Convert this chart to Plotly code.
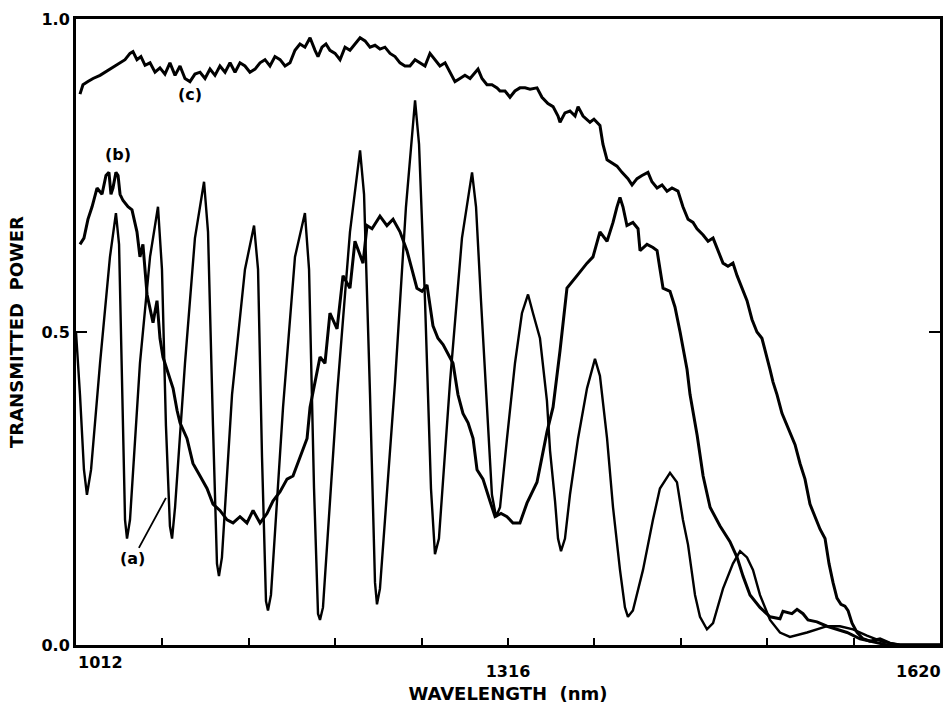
import plotly.graph_objects as go

# ---- Curve (a): narrow interference fringes ----
wl_a = [1012.0, 1014.8, 1017.6, 1019.7, 1022.6, 1028.9, 1035.9, 1040.1, 1042.3, 1044.4,
        1046.5, 1047.9, 1050.0, 1057.0, 1064.1, 1069.7, 1072.5, 1075.3, 1078.1, 1079.6,
        1081.7, 1088.7, 1095.7, 1102.1, 1104.9, 1108.4, 1111.2, 1112.6, 1114.7, 1121.8,
        1130.9, 1137.3, 1140.1, 1142.9, 1145.7, 1147.1, 1149.2, 1157.7, 1166.1, 1173.1,
        1176.0, 1179.5, 1182.3, 1183.7, 1185.8, 1195.7, 1204.8, 1211.9, 1214.7, 1218.9,
        1222.4, 1223.8, 1225.9, 1236.5, 1244.2, 1250.6, 1253.4, 1257.6, 1261.8, 1264.6,
        1267.4, 1275.2, 1283.6, 1290.7, 1293.5, 1297.0, 1301.2, 1304.7, 1307.6, 1310.4,
        1315.3, 1320.9, 1325.8, 1330.1, 1333.6, 1338.5, 1343.4, 1345.6, 1349.1, 1351.2,
        1353.3, 1356.1, 1359.6, 1365.3, 1371.6, 1377.2, 1380.7, 1385.7, 1389.9, 1394.8,
        1398.3, 1400.4, 1403.9, 1411.0, 1418.0, 1422.9, 1430.0, 1434.9, 1439.1, 1442.7,
        1447.6, 1451.1, 1456.0, 1460.3, 1467.3, 1474.3, 1479.3, 1484.2, 1488.4, 1493.3,
        1500.4, 1507.4, 1514.4, 1526.4, 1540.5, 1549.6, 1558.8, 1568.6, 1579.9, 1591.9,
        1620.0]
tp_a = [0.50, 0.40, 0.28, 0.24, 0.28, 0.45, 0.62, 0.69, 0.64, 0.40,
        0.20, 0.17, 0.20, 0.45, 0.62, 0.70, 0.60, 0.35, 0.19, 0.17,
        0.22, 0.45, 0.65, 0.74, 0.66, 0.35, 0.13, 0.11, 0.14, 0.40,
        0.60, 0.67, 0.60, 0.30, 0.07, 0.055, 0.08, 0.38, 0.62, 0.69,
        0.60, 0.25, 0.05, 0.04, 0.06, 0.40, 0.66, 0.79, 0.72, 0.40,
        0.10, 0.065, 0.09, 0.42, 0.70, 0.87, 0.80, 0.55, 0.25, 0.145,
        0.17, 0.42, 0.65, 0.755, 0.70, 0.55, 0.39, 0.24, 0.205, 0.22,
        0.33, 0.45, 0.53, 0.56, 0.53, 0.49, 0.39, 0.31, 0.23, 0.17,
        0.15, 0.17, 0.24, 0.33, 0.41, 0.457, 0.43, 0.33, 0.22, 0.12,
        0.06, 0.045, 0.055, 0.12, 0.20, 0.25, 0.275, 0.26, 0.20, 0.16,
        0.08, 0.045, 0.025, 0.035, 0.09, 0.13, 0.15, 0.14, 0.12, 0.08,
        0.04, 0.02, 0.013, 0.02, 0.03, 0.03, 0.025, 0.015, 0.005, 0.0,
        0.0]

# ---- Curve (b): broad oscillation ----
wl_b = [1014.8, 1017.6, 1020.4, 1023.3, 1026.8, 1030.3, 1033.1, 1035.2, 1036.6, 1038.0,
        1040.1, 1041.6, 1043.0, 1045.1, 1048.6, 1051.4, 1054.9, 1057.0, 1059.1, 1062.0,
        1066.2, 1069.0, 1071.1, 1073.2, 1076.0, 1080.3, 1083.1, 1085.2, 1090.1, 1094.3,
        1099.3, 1104.2, 1108.4, 1113.3, 1118.3, 1122.5, 1127.4, 1132.3, 1136.6, 1141.5,
        1146.4, 1150.6, 1155.6, 1160.5, 1164.7, 1169.6, 1174.6, 1176.7, 1180.2, 1183.7,
        1187.2, 1190.7, 1195.7, 1199.9, 1204.8, 1208.3, 1214.0, 1216.8, 1220.3, 1225.9,
        1230.8, 1235.1, 1240.0, 1244.9, 1248.4, 1251.9, 1255.5, 1259.0, 1263.2, 1266.7,
        1270.3, 1273.8, 1277.3, 1280.8, 1284.3, 1287.9, 1291.4, 1294.2, 1298.4, 1303.3,
        1306.9, 1311.1, 1315.3, 1319.5, 1324.4, 1329.4, 1336.4, 1343.4, 1347.7, 1352.6,
        1357.5, 1364.6, 1371.6, 1375.8, 1380.7, 1385.7, 1389.9, 1392.7, 1394.8, 1396.9,
        1399.7, 1403.9, 1407.5, 1408.9, 1413.8, 1418.0, 1420.9, 1423.0, 1425.1, 1430.0,
        1433.5, 1437.1, 1442.0, 1444.1, 1449.1, 1453.3, 1458.2, 1465.2, 1472.2, 1477.2,
        1481.4, 1486.3, 1493.3, 1500.4, 1507.4, 1509.5, 1515.8, 1519.4, 1523.6, 1527.1,
        1533.4, 1540.5, 1544.7, 1554.6, 1563.7, 1572.8, 1582.7, 1620.0]
tp_b = [0.64, 0.65, 0.68, 0.70, 0.73, 0.72, 0.75, 0.755, 0.72, 0.73,
        0.755, 0.75, 0.72, 0.71, 0.70, 0.695, 0.66, 0.62, 0.64, 0.56,
        0.515, 0.55, 0.49, 0.46, 0.44, 0.41, 0.375, 0.355, 0.33, 0.29,
        0.27, 0.25, 0.225, 0.215, 0.20, 0.195, 0.205, 0.195, 0.215, 0.195,
        0.21, 0.23, 0.245, 0.265, 0.27, 0.30, 0.33, 0.38, 0.42, 0.46,
        0.45, 0.53, 0.505, 0.59, 0.57, 0.645, 0.61, 0.67, 0.665, 0.685,
        0.67, 0.68, 0.66, 0.63, 0.60, 0.57, 0.565, 0.575, 0.51, 0.49,
        0.48, 0.465, 0.45, 0.40, 0.37, 0.355, 0.33, 0.28, 0.265, 0.23,
        0.205, 0.21, 0.205, 0.195, 0.195, 0.227, 0.26, 0.34, 0.38, 0.47,
        0.57, 0.59, 0.61, 0.62, 0.66, 0.645, 0.675, 0.70, 0.715, 0.70,
        0.67, 0.675, 0.665, 0.63, 0.64, 0.635, 0.63, 0.60, 0.57, 0.565,
        0.54, 0.50, 0.44, 0.40, 0.335, 0.27, 0.22, 0.19, 0.165, 0.14,
        0.11, 0.08, 0.06, 0.045, 0.042, 0.054, 0.05, 0.057, 0.05, 0.04,
        0.037, 0.03, 0.027, 0.02, 0.01, 0.005, 0.0, 0.0]

# ---- Curve (c): high transmission, falling off at long wavelengths ----
wl_c = [1014.8, 1016.9, 1020.4, 1024.0, 1028.9, 1032.4, 1035.9, 1039.4, 1043.0, 1046.5,
        1050.0, 1052.1, 1054.9, 1057.7, 1060.6, 1064.1, 1067.6, 1071.1, 1074.6, 1078.1,
        1081.7, 1085.2, 1088.7, 1092.2, 1095.7, 1099.3, 1102.8, 1106.3, 1109.8, 1113.3,
        1116.9, 1120.4, 1123.9, 1127.4, 1130.9, 1134.4, 1138.0, 1141.5, 1145.0, 1148.5,
        1152.0, 1155.6, 1159.1, 1162.6, 1166.1, 1169.6, 1173.1, 1176.7, 1180.2, 1182.3,
        1185.1, 1187.9, 1190.7, 1194.3, 1197.8, 1201.3, 1204.8, 1208.3, 1211.9, 1215.4,
        1218.9, 1222.4, 1225.9, 1229.4, 1233.0, 1236.5, 1240.0, 1243.5, 1247.0, 1250.6,
        1254.1, 1257.6, 1261.1, 1264.6, 1268.1, 1271.7, 1275.2, 1278.7, 1282.2, 1285.7,
        1289.3, 1292.8, 1294.9, 1297.7, 1301.2, 1304.7, 1308.3, 1310.4, 1313.9, 1317.4,
        1320.9, 1324.4, 1328.0, 1331.5, 1336.4, 1339.9, 1344.1, 1347.7, 1351.2, 1352.6,
        1356.1, 1359.6, 1363.2, 1365.3, 1368.8, 1373.7, 1376.5, 1380.7, 1382.8, 1385.7,
        1389.2, 1392.7, 1396.2, 1400.4, 1403.3, 1406.8, 1410.3, 1414.5, 1417.3, 1420.9,
        1424.4, 1427.9, 1431.4, 1435.6, 1439.1, 1442.7, 1446.2, 1449.0, 1453.3, 1456.8,
        1460.3, 1463.8, 1467.3, 1470.8, 1474.3, 1477.2, 1480.7, 1484.2, 1487.7, 1491.2,
        1494.7, 1498.3, 1500.4, 1502.5, 1505.3, 1508.8, 1511.6, 1514.4, 1518.0, 1521.5,
        1525.0, 1528.5, 1532.0, 1535.6, 1539.1, 1541.9, 1544.7, 1547.5, 1550.3, 1553.1,
        1555.3, 1558.1, 1561.6, 1565.8, 1570.7, 1577.8, 1584.8, 1591.9, 1620.0]
tp_c = [0.88, 0.895, 0.90, 0.905, 0.91, 0.915, 0.92, 0.925, 0.93, 0.935,
        0.945, 0.948, 0.935, 0.94, 0.926, 0.93, 0.915, 0.922, 0.912, 0.93,
        0.91, 0.925, 0.905, 0.90, 0.912, 0.915, 0.905, 0.92, 0.91, 0.925,
        0.915, 0.93, 0.915, 0.93, 0.925, 0.915, 0.92, 0.93, 0.935, 0.925,
        0.94, 0.935, 0.925, 0.93, 0.95, 0.96, 0.955, 0.97, 0.95, 0.94,
        0.955, 0.96, 0.95, 0.945, 0.935, 0.955, 0.95, 0.96, 0.97, 0.965,
        0.955, 0.958, 0.952, 0.955, 0.945, 0.94, 0.93, 0.925, 0.925, 0.935,
        0.93, 0.925, 0.945, 0.935, 0.925, 0.93, 0.915, 0.90, 0.905, 0.91,
        0.905, 0.915, 0.92, 0.905, 0.895, 0.895, 0.89, 0.885, 0.885, 0.875,
        0.885, 0.89, 0.89, 0.888, 0.89, 0.875, 0.865, 0.86, 0.845, 0.835,
        0.85, 0.853, 0.845, 0.86, 0.845, 0.835, 0.84, 0.83, 0.80, 0.775,
        0.77, 0.765, 0.755, 0.745, 0.735, 0.745, 0.75, 0.755, 0.74, 0.73,
        0.735, 0.725, 0.73, 0.725, 0.70, 0.68, 0.675, 0.665, 0.655, 0.645,
        0.65, 0.63, 0.61, 0.605, 0.61, 0.59, 0.57, 0.55, 0.52, 0.50,
        0.49, 0.46, 0.44, 0.42, 0.40, 0.37, 0.355, 0.34, 0.32, 0.29,
        0.265, 0.225, 0.205, 0.185, 0.17, 0.13, 0.10, 0.075, 0.065, 0.062,
        0.055, 0.035, 0.02, 0.01, 0.006, 0.01, 0.003, 0.0, 0.0]

x_tick_vals = [1012, 1316, 1620]
x_tick_text = ["1012", "1316", "1620"]
y_tick_vals = [0.0, 0.5, 1.0]
curve_labels = ["(a)", "(b)", "(c)"]

FONT = "DejaVu Sans"
INK = "black"

fig = go.Figure()
fig.add_trace(go.Scatter(x=wl_a, y=tp_a, mode="lines", name=curve_labels[0],
                         line=dict(color=INK, width=2.4)))
fig.add_trace(go.Scatter(x=wl_b, y=tp_b, mode="lines", name=curve_labels[1],
                         line=dict(color=INK, width=3)))
fig.add_trace(go.Scatter(x=wl_c, y=tp_c, mode="lines", name=curve_labels[2],
                         line=dict(color=INK, width=3)))

lab_font = dict(family=FONT, size=16, color=INK, weight="bold")
tick_font = dict(family=FONT, size=16, color=INK, weight="bold")

# curve labels
fig.add_annotation(x=1075.3, y=0.235, xref="x", yref="y", text=curve_labels[0],
                   showarrow=True, arrowhead=0, arrowwidth=1.8, arrowcolor=INK,
                   ax=-33, ay=61, font=lab_font)
fig.add_annotation(x=1041.6, y=0.783, xref="x", yref="y", text=curve_labels[1],
                   showarrow=False, font=lab_font)
fig.add_annotation(x=1092.2, y=0.88, xref="x", yref="y", text=curve_labels[2],
                   showarrow=False, font=lab_font)

# end tick labels placed inside the page width
fig.add_annotation(x=x_tick_vals[0], y=0, xref="x", yref="y", text=x_tick_text[0],
                   showarrow=False, xanchor="left", yanchor="top", yshift=-6,
                   font=tick_font)
fig.add_annotation(x=x_tick_vals[2], y=0, xref="x", yref="y", text=x_tick_text[2],
                   showarrow=False, xanchor="right", yanchor="top", yshift=-15,
                   xshift=3, font=tick_font)

fig.update_layout(
    width=943, height=704,
    margin=dict(l=76, r=3, t=19, b=59),
    paper_bgcolor="white", plot_bgcolor="white",
    showlegend=False,
    font=dict(family=FONT, color=INK, size=16),
    xaxis=dict(
        range=[1012, 1620],
        tickvals=x_tick_vals,
        ticktext=["", x_tick_text[1], ""],
        ticks="inside", ticklen=7, tickwidth=2, tickcolor=INK,
        minor=dict(tick0=1012, dtick=60.8, ticks="inside", ticklen=7,
                   tickwidth=2, tickcolor=INK, showgrid=False),
        ticklabelstandoff=10,
        showline=True, linewidth=3, linecolor=INK, mirror=True,
        showgrid=False, zeroline=False, automargin=False,
        tickfont=tick_font,
        title=dict(text="WAVELENGTH  (nm)", standoff=8,
                   font=dict(family=FONT, size=18, color=INK, weight="bold")),
    ),
    yaxis=dict(
        range=[0, 1.0],
        tickvals=y_tick_vals,
        tickformat=".1f",
        ticks="inside", ticklen=11, tickwidth=2, tickcolor=INK,
        showline=True, linewidth=3, linecolor=INK, mirror="ticks",
        showgrid=False, zeroline=False, automargin=False,
        tickfont=tick_font,
        title=dict(text="TRANSMITTED  POWER", standoff=14,
                   font=dict(family=FONT, size=18, color=INK, weight="bold")),
    ),
)

fig.write_html("out.html", config={"displayModeBar": False},
               post_script="document.body.style.margin='0';")
